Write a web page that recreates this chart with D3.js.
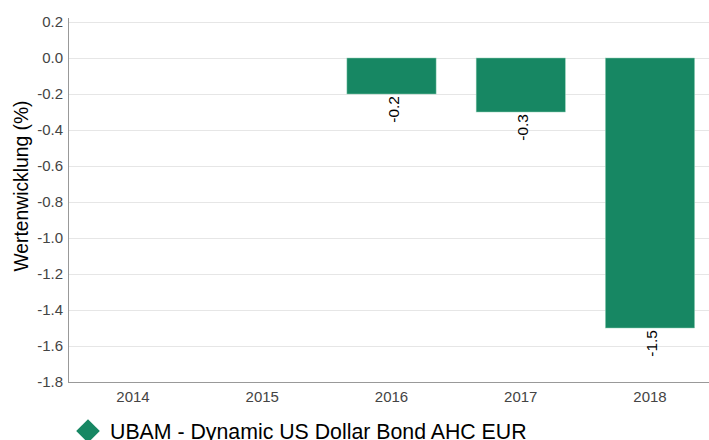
<!DOCTYPE html>
<html><head><meta charset="utf-8">
<script src="https://cdn.jsdelivr.net/npm/d3@7"></script>
<style>body{margin:0;background:#fff;}svg{display:block;font-family:"Liberation Sans",Arial,sans-serif;}</style>
</head><body><svg id="c" width="709" height="440"></svg>
<script>
const categories = ["2014","2015","2016","2017","2018"];
const values = [null, null, -0.2, -0.3, -1.5];
const yTicks = [0.2,0.0,-0.2,-0.4,-0.6,-0.8,-1.0,-1.2,-1.4,-1.6,-1.8];
const seriesName = "UBAM - Dynamic US Dollar Bond AHC EUR";
const yTitle = "Wertenwicklung (%)";
const color = "#178763";

const svg = d3.select("#c");
const mLeft = 68, mRight = 715, mTop = 22, mBottom = 382;
const x = d3.scaleBand().domain(categories).range([mLeft, mRight]).paddingInner(0.31).paddingOuter(0.158);
const y = d3.scaleLinear().domain([-1.8, 0.2]).range([mBottom, mTop]);

// grid
svg.append("g").selectAll("line").data(yTicks).join("line")
  .attr("x1", mLeft).attr("x2", 709)
  .attr("y1", d => Math.round(y(d)) + 0.5).attr("y2", d => Math.round(y(d)) + 0.5)
  .attr("stroke", "#e6e6e6").attr("stroke-width", 1);

// y tick labels
svg.append("g").selectAll("text").data(yTicks).join("text")
  .attr("x", mLeft - 5).attr("y", d => y(d)).attr("dy", "0.35em")
  .attr("text-anchor", "end").attr("font-size", 15).attr("fill", "#444")
  .text(d => d3.format(".1f")(d).replace("−","-"));

// bars
const data = categories.map((c, i) => ({c, v: values[i]})).filter(d => d.v != null);
svg.append("g").selectAll("rect").data(data).join("rect")
  .attr("x", d => x(d.c)).attr("width", x.bandwidth())
  .attr("y", d => y(Math.max(0, d.v))).attr("height", d => Math.abs(y(d.v) - y(0)))
  .attr("fill", color).attr("stroke", "#8fd0b5").attr("stroke-width", 0.5);

// value labels
svg.append("g").selectAll("text").data(data).join("text")
  .attr("transform", d => `translate(${x(d.c) + x.bandwidth()/2 + 7.5},${y(d.v) + 2}) rotate(-90)`)
  .attr("text-anchor", "end").attr("font-size", 15.5).attr("fill", "#000")
  .text(d => d3.format(".1f")(d.v).replace("−","-"));

// axes lines
svg.append("line").attr("x1", mLeft + 0.5).attr("x2", mLeft + 0.5).attr("y1", mTop - 4).attr("y2", mBottom)
  .attr("stroke", "#999");
svg.append("line").attr("x1", mLeft).attr("x2", 709).attr("y1", mBottom + 0.5).attr("y2", mBottom + 0.5)
  .attr("stroke", "#999");

// x labels
svg.append("g").selectAll("text").data(categories).join("text")
  .attr("x", d => x(d) + x.bandwidth()/2).attr("y", mBottom + 20)
  .attr("text-anchor", "middle").attr("font-size", 15).attr("fill", "#444")
  .text(d => d);

// y title
svg.append("text").attr("transform", `translate(28,186) rotate(-90)`)
  .attr("text-anchor", "middle").attr("font-size", 19.3).attr("fill", "#000").text(yTitle);

// legend
svg.append("path").attr("d", d3.symbol().type(d3.symbolDiamond2).size(355)())
  .attr("transform", "translate(88,431)").attr("fill", color);
svg.append("text").attr("x", 110).attr("y", 438.5).attr("font-size", 21.3).attr("fill", "#000").text(seriesName);
</script></body></html>
